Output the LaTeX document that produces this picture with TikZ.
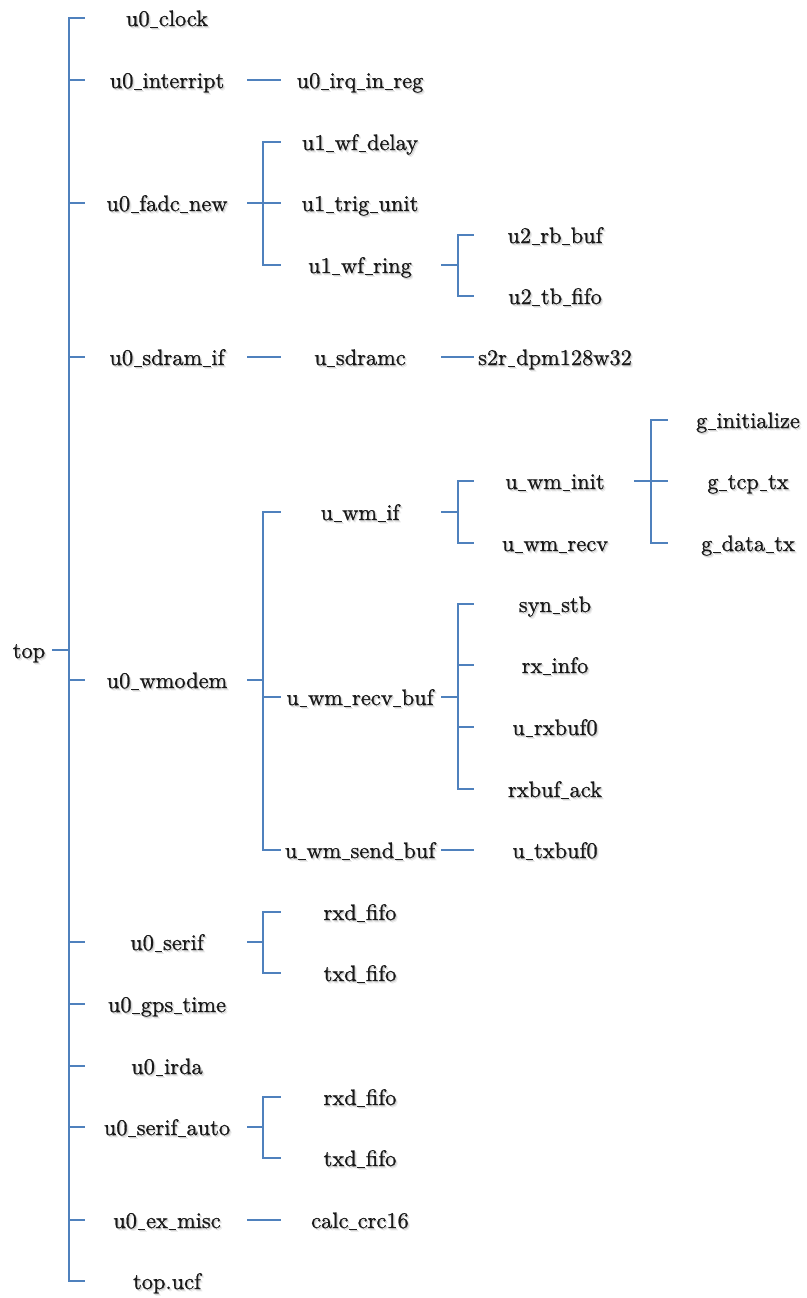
\documentclass[tikz,border=0pt]{standalone}
\usepackage{fontspec}
\usepackage{xcolor}
\newfontfamily\lblfont{lmroman10-regular.otf}[FakeBold=0.9]
\definecolor{linkblue}{RGB}{79,129,189}
\definecolor{ink}{RGB}{25,25,25}
% a compact underscore for the instance names
\newcommand\us{\kern0.03em\rule[-0.1em]{0.35em}{0.055em}\kern0.03em}
% label with a soft drop shadow underneath
\newcommand\shd[1]{%
  \makebox[0pt][l]{\hspace{2.0pt}\raisebox{-2.2pt}{\color{black!8}#1}}%
  \makebox[0pt][l]{\hspace{1.0pt}\raisebox{-1.2pt}{\color{black!18}#1}}%
  #1}
\tikzset{
  wire/.style={draw=linkblue, line width=1.8pt, line cap=rect},
  lbl/.style={inner sep=0pt, text height=16pt, text depth=0pt, text=ink,
              font=\lblfont\fontsize{22.4}{26}\selectfont},
}
\begin{document}
\begin{tikzpicture}[x=1pt,y=-1pt]
\useasboundingbox (0,0) rectangle (806,1298);

% column x positions of spines, tick ends and outgoing stubs
\coordinate (o0) at (53,0);
\coordinate (k1) at (69,0);   \coordinate (e1) at (84,0);
\coordinate (o1) at (248,0);
\coordinate (k2) at (263,0);  \coordinate (e2) at (280,0);
\coordinate (o2) at (442,0);
\coordinate (k3) at (458,0);  \coordinate (e3) at (473,0);
\coordinate (o3) at (635,0);
\coordinate (k4) at (651,0);  \coordinate (e4) at (667,0);

% root
\node[lbl] (top) at (29,650) {\shd{top}};

% first level
\node[lbl] (clock)  at (167,18)   {\shd{u0\us clock}};
\node[lbl] (intr)   at (167,80)   {\shd{u0\us interript}};
\node[lbl] (fadc)   at (167,203)  {\shd{u0\us fadc\us new}};
\node[lbl] (sdram)  at (167,357)  {\shd{u0\us sdram\us if}};
\node[lbl] (wmodem) at (167,680)  {\shd{u0\us wmodem}};
\node[lbl] (serif)  at (167,942)  {\shd{u0\us serif}};
\node[lbl] (gps)    at (167,1004) {\shd{u0\us gps\us time}};
\node[lbl] (irda)   at (167,1066) {\shd{u0\us irda}};
\node[lbl] (serifa) at (167,1127) {\shd{u0\us serif\us auto}};
\node[lbl] (exmisc) at (167,1220) {\shd{u0\us ex\us misc}};
\node[lbl] (ucf)    at (167,1281) {\shd{top.ucf}};

% second level
\node[lbl] (irq)     at (360,80)   {\shd{u0\us irq\us in\us reg}};
\node[lbl] (wfdelay) at (360,142)  {\shd{u1\us wf\us delay}};
\node[lbl] (trig)    at (360,203)  {\shd{u1\us trig\us unit}};
\node[lbl] (wfring)  at (360,265)  {\shd{u1\us wf\us ring}};
\node[lbl] (sdramc)  at (360,357)  {\shd{u\us sdramc}};
\node[lbl] (wmif)    at (360,512)  {\shd{u\us wm\us if}};
\node[lbl] (recvbuf) at (360,697)  {\shd{u\us wm\us recv\us buf}};
\node[lbl] (sendbuf) at (360,850)  {\shd{u\us wm\us send\us buf}};
\node[lbl] (rxdA)    at (360,912)  {\shd{rxd\us fifo}};
\node[lbl] (txdA)    at (360,973)  {\shd{txd\us fifo}};
\node[lbl] (rxdB)    at (360,1097) {\shd{rxd\us fifo}};
\node[lbl] (txdB)    at (360,1158) {\shd{txd\us fifo}};
\node[lbl] (crc)     at (360,1220) {\shd{calc\us crc16}};

% third level
\node[lbl] (rbbuf)   at (555,235)  {\shd{u2\us rb\us buf}};
\node[lbl] (tbfifo)  at (555,296)  {\shd{u2\us tb\us fifo}};
\node[lbl] (s2r)     at (555,357)  {\shd{s2r\us dpm128w32}};
\node[lbl] (wminit)  at (555,481)  {\shd{u\us wm\us init}};
\node[lbl] (wmrecv)  at (555,543)  {\shd{u\us wm\us recv}};
\node[lbl] (synstb)  at (555,604)  {\shd{syn\us stb}};
\node[lbl] (rxinfo)  at (555,665)  {\shd{rx\us info}};
\node[lbl] (rxbuf)   at (555,727)  {\shd{u\us rxbuf0}};
\node[lbl] (rxack)   at (555,789)  {\shd{rxbuf\us ack}};
\node[lbl] (txbuf)   at (555,850)  {\shd{u\us txbuf0}};

% fourth level
\node[lbl] (ginit)   at (748,420)  {\shd{g\us initialize}};
\node[lbl] (gtcp)    at (748,481)  {\shd{g\us tcp\us tx}};
\node[lbl] (gdata)   at (748,543)  {\shd{g\us data\us tx}};

% ---- connectors ----
% root spine
\draw[wire] (o0 |- top) -- (k1 |- top);
\draw[wire] (k1 |- clock) -- (k1 |- ucf);
\foreach \n in {clock,intr,fadc,sdram,wmodem,serif,gps,irda,serifa,exmisc,ucf}
  \draw[wire] (k1 |- \n) -- (e1 |- \n);

% single children of the first level
\foreach \p in {intr,sdram,exmisc}
  \draw[wire] (o1 |- \p) -- (e2 |- \p);

% brackets of the first level
\draw[wire] (o1 |- fadc) -- (k2 |- fadc);
\draw[wire] (k2 |- wfdelay) -- (k2 |- wfring);
\foreach \n in {wfdelay,trig,wfring} \draw[wire] (k2 |- \n) -- (e2 |- \n);

\draw[wire] (o1 |- wmodem) -- (k2 |- wmodem);
\draw[wire] (k2 |- wmif) -- (k2 |- sendbuf);
\foreach \n in {wmif,recvbuf,sendbuf} \draw[wire] (k2 |- \n) -- (e2 |- \n);

\draw[wire] (o1 |- serif) -- (k2 |- serif);
\draw[wire] (k2 |- rxdA) -- (k2 |- txdA);
\foreach \n in {rxdA,txdA} \draw[wire] (k2 |- \n) -- (e2 |- \n);

\draw[wire] (o1 |- serifa) -- (k2 |- serifa);
\draw[wire] (k2 |- rxdB) -- (k2 |- txdB);
\foreach \n in {rxdB,txdB} \draw[wire] (k2 |- \n) -- (e2 |- \n);

% second level
\foreach \p in {sdramc,sendbuf}
  \draw[wire] (o2 |- \p) -- (e3 |- \p);

\draw[wire] (o2 |- wfring) -- (k3 |- wfring);
\draw[wire] (k3 |- rbbuf) -- (k3 |- tbfifo);
\foreach \n in {rbbuf,tbfifo} \draw[wire] (k3 |- \n) -- (e3 |- \n);

\draw[wire] (o2 |- wmif) -- (k3 |- wmif);
\draw[wire] (k3 |- wminit) -- (k3 |- wmrecv);
\foreach \n in {wminit,wmrecv} \draw[wire] (k3 |- \n) -- (e3 |- \n);

\draw[wire] (o2 |- recvbuf) -- (k3 |- recvbuf);
\draw[wire] (k3 |- synstb) -- (k3 |- rxack);
\foreach \n in {synstb,rxinfo,rxbuf,rxack} \draw[wire] (k3 |- \n) -- (e3 |- \n);

% third level
\draw[wire] (o3 |- wminit) -- (k4 |- wminit);
\draw[wire] (k4 |- ginit) -- (k4 |- gdata);
\foreach \n in {ginit,gtcp,gdata} \draw[wire] (k4 |- \n) -- (e4 |- \n);
\end{tikzpicture}
\end{document}
